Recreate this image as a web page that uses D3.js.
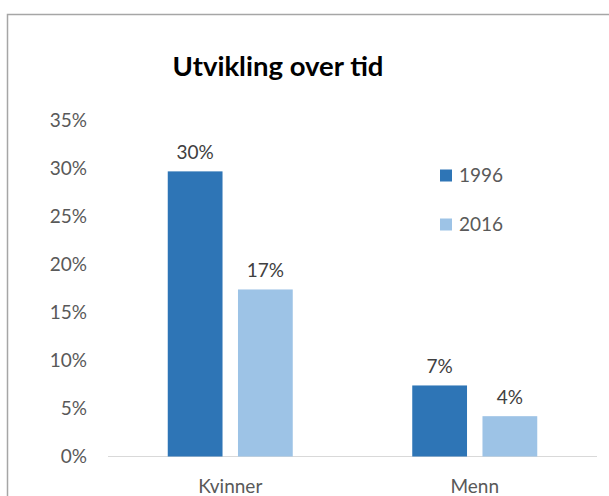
<!DOCTYPE html>
<html>
<head>
<meta charset="utf-8">
<script src="https://cdn.jsdelivr.net/npm/d3@7"></script>
<style>
  body { margin: 0; background: #fff; }
  text { font-family: Lato, "Open Sans", sans-serif; }
</style>
</head>
<body>
<div id="chart"></div>
<script>
// data
var categories = ["Kvinner", "Menn"];
var seriesNames = ["1996", "2016"];
var values1996 = [0.297, 0.074];
var values2016 = [0.174, 0.042];
var yTicks = [0, 0.05, 0.10, 0.15, 0.20, 0.25, 0.30, 0.35];

var colors = ["#2e75b6", "#9dc3e6"];
var W = 609, H = 496;
var margin = {top: 120.5, right: 12, bottom: 39.5, left: 108};

var svg = d3.select("#chart").append("svg")
  .attr("width", W)
  .attr("height", H);

// outer frame
svg.append("rect")
  .attr("x", 7.5).attr("y", 14.5)
  .attr("width", W + 10).attr("height", H + 10)
  .attr("fill", "#fff")
  .attr("stroke", "#a6a6a6")
  .attr("stroke-width", 1.5);

svg.append("text")
  .attr("x", 278).attr("y", 76)
  .attr("text-anchor", "middle")
  .attr("font-size", 27.5)
  .attr("font-weight", "bold")
  .attr("fill", "#000")
  .text("Utvikling over tid");

var x0 = d3.scaleBand()
  .domain(categories)
  .range([margin.left, W - margin.right]);

var x1 = d3.scaleBand()
  .domain(seriesNames)
  .range([0, 125])
  .paddingInner(0.22);

var y = d3.scaleLinear()
  .domain([0, 0.35])
  .range([H - margin.bottom, margin.top]);

// y axis labels
var yAxis = svg.append("g")
  .attr("transform", "translate(" + 87 + ",0)")
  .call(d3.axisLeft(y).tickValues(yTicks).tickSize(0).tickPadding(0).tickFormat(d3.format(".0%")));
yAxis.select(".domain").remove();
yAxis.selectAll("text")
  .attr("font-family", "Lato, sans-serif")
  .attr("font-size", 19)
  .attr("fill", "#595959");

// baseline
svg.append("line")
  .attr("x1", margin.left).attr("x2", W - margin.right)
  .attr("y1", y(0)).attr("y2", y(0))
  .attr("stroke", "#d9d9d9")
  .attr("stroke-width", 1);

var rows = categories.map(function(c, i) {
  return {cat: c, vals: [values1996[i], values2016[i]]};
});

var groups = svg.selectAll(".grp")
  .data(rows)
  .enter().append("g")
  .attr("class", "grp")
  .attr("transform", function(d) {
    return "translate(" + (x0(d.cat) + x0.bandwidth() / 2 - 62.5) + ",0)";
  });

groups.selectAll("rect")
  .data(function(d) { return d.vals.map(function(v, j) { return {s: seriesNames[j], v: v, j: j}; }); })
  .enter().append("rect")
  .attr("x", function(d) { return x1(d.s); })
  .attr("width", x1.bandwidth())
  .attr("y", function(d) { return y(d.v); })
  .attr("height", function(d) { return y(0) - y(d.v); })
  .attr("fill", function(d) { return colors[d.j]; });

groups.selectAll(".lbl")
  .data(function(d) { return d.vals.map(function(v, j) { return {s: seriesNames[j], v: v}; }); })
  .enter().append("text")
  .attr("class", "lbl")
  .attr("x", function(d) { return x1(d.s) + x1.bandwidth() / 2; })
  .attr("y", function(d) { return y(d.v) - 12; })
  .attr("text-anchor", "middle")
  .attr("font-size", 19)
  .attr("fill", "#404040")
  .text(function(d) { return Math.round(d.v * 100) + "%"; });

// category labels
var xAxis = svg.append("g")
  .attr("transform", "translate(0," + (y(0) + 20) + ")")
  .call(d3.axisBottom(x0).tickSize(0).tickPadding(0));
xAxis.select(".domain").remove();
xAxis.selectAll("text")
  .attr("font-family", "Lato, sans-serif")
  .attr("font-size", 19)
  .attr("fill", "#595959")
  .attr("dy", "0.85em");

// legend
var legend = svg.selectAll(".leg")
  .data(seriesNames)
  .enter().append("g")
  .attr("class", "leg")
  .attr("transform", function(d, i) { return "translate(440," + (169.5 + i * 49) + ")"; });
legend.append("rect")
  .attr("width", 12).attr("height", 12)
  .attr("fill", function(d, i) { return colors[i]; });
legend.append("text")
  .attr("x", 19).attr("y", 6)
  .attr("dy", "0.35em")
  .attr("font-size", 19)
  .attr("fill", "#595959")
  .text(function(d) { return d; });
</script>
</body>
</html>
